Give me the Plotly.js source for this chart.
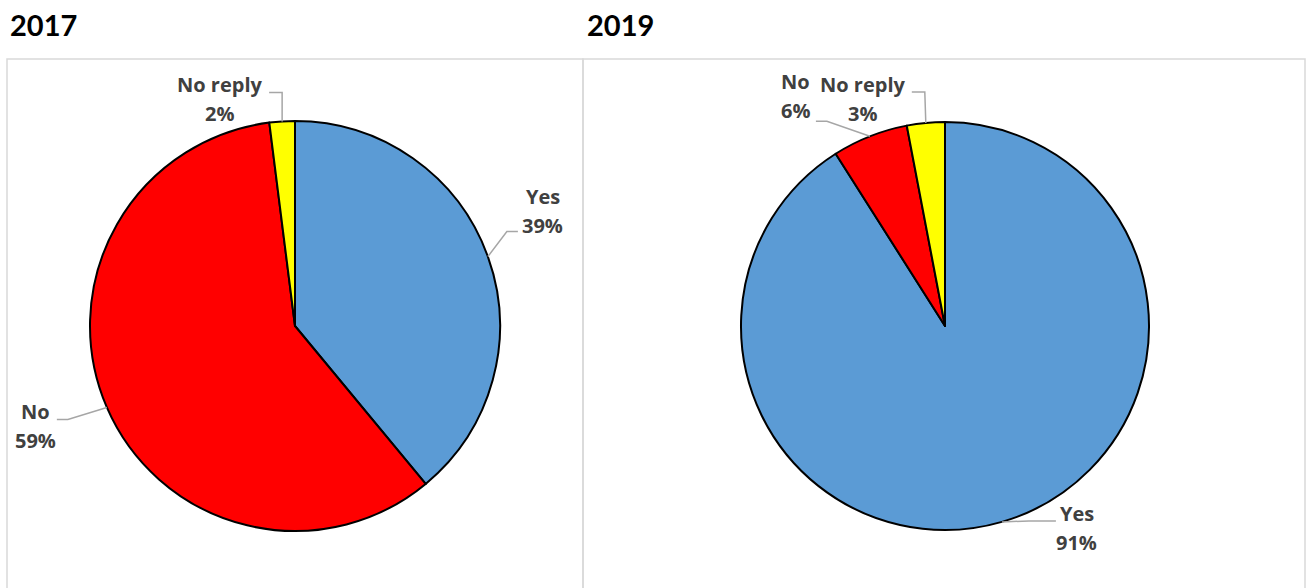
<!DOCTYPE html>
<html>
<head>
<meta charset="utf-8">
<script src="https://cdn.plot.ly/plotly-3.0.1.min.js"></script>
<style>html,body{margin:0;padding:0;background:#fff;}#chart{width:1306px;height:588px;}</style>
</head>
<body>
<div id="chart"></div>
<script>
// ---- Data ----
var categories = ["Yes", "No", "No reply"];
var values2017 = [39, 59, 2];
var values2019 = [91, 6, 3];
var panelTitles = ["2017", "2019"];
var sliceColors = ["#5B9BD5", "#FF0000", "#FFFF00"];

// ---- Layout geometry (pixels) ----
var W = 1306, H = 588;
var TITLE_FONT = "Lato, 'Open Sans', sans-serif";
var LABEL_FONT = "'Open Sans', Lato, sans-serif";
var pies = [
  {values: values2017, cx: 295, cy: 326, r: 205,
   labels: [ // offsets from the slice's outer mid point
     {elbow: [19, -25], end: [30, -25], text: [55, -46]},
     {elbow: [-39, 12], end: [-50, 12], text: [-71, 19]},
     {elbow: [0, -29], end: [-13, -29], text: [-63, -22]}
   ]},
  {values: values2019, cx: 945, cy: 326, r: 204,
   labels: [
     {elbow: [27, -1], end: [54, -1], text: [75, 6]},
     {elbow: [-43, -15], end: [-54, -15], text: [-74, -40]},
     {elbow: [-1, -31], end: [-14, -31], text: [-63, -24]}
   ]}
];
var panels = [[7, 59, 583, 600], [583, 59, 1305, 600]];
var titlePos = [[8, 25], [585, 25]];

function px(x) { return x / W; }
function py(y) { return 1 - y / H; }

var traces = [], shapes = [], annotations = [];

pies.forEach(function (p, i) {
  traces.push({
    type: "pie",
    values: p.values,
    labels: categories,
    sort: false,
    direction: "clockwise",
    rotation: 0,
    textinfo: "none",
    hoverinfo: "label+percent",
    showlegend: false,
    marker: {colors: sliceColors, line: {color: "#000000", width: 2}},
    domain: {x: [px(p.cx - p.r), px(p.cx + p.r)], y: [py(p.cy + p.r), py(p.cy - p.r)]}
  });
  var total = p.values.reduce(function (a, b) { return a + b; }, 0);
  var cum = 0;
  p.values.forEach(function (v, k) {
    var mid = (cum + v / 2) / total * 2 * Math.PI;
    cum += v;
    var ex = p.cx + p.r * Math.sin(mid), ey = p.cy - p.r * Math.cos(mid);
    var L = p.labels[k];
    var path = "M " + px(ex) + "," + py(ey) +
      " L " + px(ex + L.elbow[0]) + "," + py(ey + L.elbow[1]) +
      " L " + px(ex + L.end[0]) + "," + py(ey + L.end[1]);
    shapes.push({type: "path", xref: "paper", yref: "paper", path: path,
      line: {color: "#A6A6A6", width: 1.5}});
    var tx = ex + L.text[0], ty = ey + L.text[1];
    var pct = Math.round(v / total * 100) + "%";
    [[categories[k], ty - 14.5], [pct, ty + 14.5]].forEach(function (t) {
      annotations.push({xref: "paper", yref: "paper", x: px(tx), y: py(t[1]),
        xanchor: "center", yanchor: "middle", showarrow: false,
        text: "<b>" + t[0] + "</b>",
        font: {family: LABEL_FONT, size: 20, color: "#404040"}});
    });
  });
  annotations.push({xref: "paper", yref: "paper", x: px(titlePos[i][0]), y: py(titlePos[i][1]),
    xanchor: "left", yanchor: "middle", showarrow: false,
    text: "<b>" + panelTitles[i] + "</b>",
    font: {family: TITLE_FONT, size: 29, color: "#000000"}});
});

panels.forEach(function (b) {
  shapes.push({type: "rect", xref: "paper", yref: "paper",
    x0: px(b[0]), x1: px(b[2]), y0: py(b[3]), y1: py(b[1]),
    line: {color: "#D9D9D9", width: 1.5}, fillcolor: "rgba(0,0,0,0)", layer: "below"});
});

Plotly.newPlot("chart", traces, {
  width: W, height: H,
  margin: {l: 0, r: 0, t: 0, b: 0},
  paper_bgcolor: "#FFFFFF",
  shapes: shapes,
  annotations: annotations,
  font: {family: LABEL_FONT}
}, {displayModeBar: false, staticPlot: true});
</script>
</body>
</html>
